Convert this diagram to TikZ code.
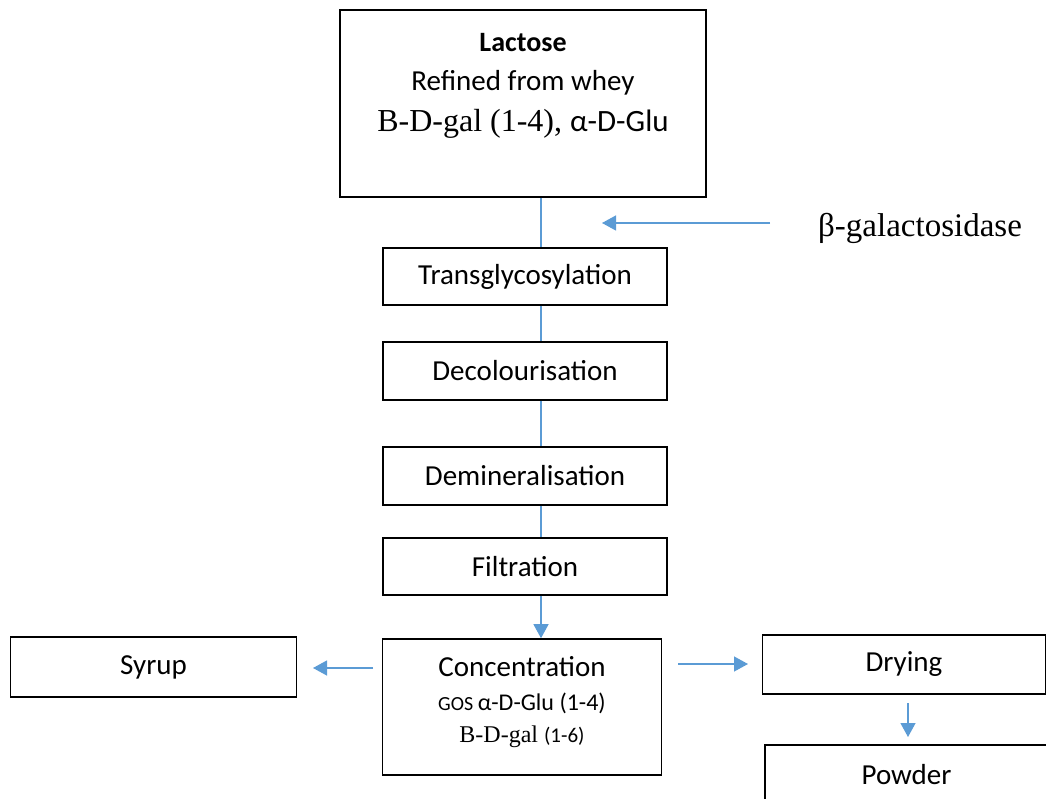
\documentclass[tikz,border=0pt]{standalone}
\usepackage{fontspec}
\setmainfont{Carlito}
\newfontfamily\tnr{Liberation Serif}
\usetikzlibrary{arrows.meta}
\definecolor{flowblue}{HTML}{5B9BD5}
\tikzset{
stepbox/.style={draw,line width=1.6pt,minimum width=284pt,minimum height=57pt,inner sep=0pt,font=\fontsize{29}{34}\selectfont},
flow/.style={draw=flowblue,line width=1.3pt},
flowarr/.style={flow,-{Triangle[length=14pt,width=15pt]}}
}
\begin{document}
\begin{tikzpicture}[x=1pt,y=-1pt]
\useasboundingbox(0,0)rectangle(1046,799);
\clip(0,0)rectangle(1046,799);
\coordinate(spine)at(541,0);
\node[stepbox,minimum width=366pt,minimum height=187pt](lactose)at(523,103.5){};
\node[align=center,inner sep=0pt,font=\fontsize{29}{39}\selectfont](lactosetxt)at(523,86){{\fontsize{28}{30}\selectfont\bfseries Lactose}\\{Refined from whey}\\[2pt]{\tnr\fontsize{32}{36}\selectfont B-D-gal (1-4), }{\fontsize{31}{36}\selectfont α-D-Glu}};
\node[stepbox](trans)at(525,276.5){Transglycosylation};
\node[stepbox,minimum height=58pt](decol)at(525,371){Decolourisation};
\node[stepbox,minimum height=58pt](demin)at(525,476){Demineralisation};
\node[stepbox](filt)at(525,566.5){Filtration};
\node[stepbox,minimum width=279pt,minimum height=136pt](conc)at(522,707){};
\node[align=center,inner sep=0pt,font=\fontsize{29}{34}\selectfont](conctxt)at(522,702.5){Concentration\\[0pt]{\fontsize{20}{22}\selectfont GOS }{\fontsize{24}{28}\selectfont α-D-Glu (1-4)}\\[-2pt]{\tnr\fontsize{24}{28}\selectfont B-D-gal }{\fontsize{21}{26}\selectfont (1-6)}};
\node[stepbox,minimum width=286pt,minimum height=60pt](syrup)at(153.5,667){Syrup};
\node[stepbox,minimum width=283pt,minimum height=59pt](drying)at(904,664.5){Drying};
\node[stepbox,minimum width=283pt,minimum height=60pt](powder)at(906.5,775){Powder};
\node[font=\tnr\fontsize{33}{38}\selectfont](enzyme)at(920,228){β-galactosidase};
\foreach \a/\b in {lactose/trans,trans/decol,decol/demin,demin/filt}{\draw[flow](\a.south -| spine)--(\b.north -| spine);}
\draw[flowarr](filt.south -| spine)--(conc.north -| spine);
\coordinate(enzfrom)at(770,223);\coordinate(enzto)at(602,223);
\coordinate(syrupfrom)at(373,668);\coordinate(syrupto)at(313,668);
\coordinate(dryfrom)at(678,664);\coordinate(dryto)at(748,664);
\coordinate(powfrom)at(908,703);\coordinate(powto)at(908,737);
\draw[flowarr](enzfrom)--(enzto);
\draw[flowarr](syrupfrom)--(syrupto);
\draw[flowarr](dryfrom)--(dryto);
\draw[flowarr](powfrom)--(powto);
\end{tikzpicture}
\end{document}
